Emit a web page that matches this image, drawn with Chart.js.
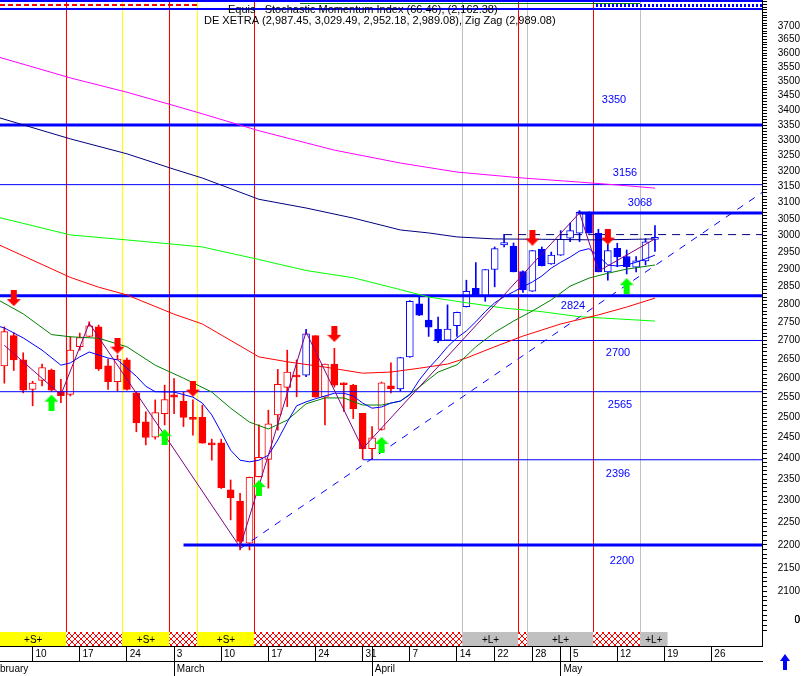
<!DOCTYPE html>
<html>
<head>
<meta charset="utf-8">
<script src="https://cdnjs.cloudflare.com/ajax/libs/Chart.js/4.4.1/chart.umd.min.js"></script>
<style>
  html, body { margin: 0; padding: 0; background: #fff; }
  canvas { display: block; }
</style>
</head>
<body>
<canvas id="chart" width="810" height="676"></canvas>
<script>
// DE XETRA daily candles, 5 Feb - 16 May 2003
// x = trading day index, 0 = Mon 10 Feb
const firstIdx = -3;
const opens = [2632,2713,2648,2571,2594,2621,2565,2558,2683,2711,
  2737,2632,2591,2648,2562,2489,2451,2509,2557,2541,
  2499,2500,2437,2437,2325,2299,2204,2356,2397,2506,
  2576,2606,2608,2713,2551,2637,2586,2582,2510,2423,
  2470,2580,2572,2656,2801,2756,2730,2701,2740,2793,
  2845,2822,2899,2971,2968,2893,2837,2959,2915,2941,
  2991,3006,3070,3006,2892,2961,2937,2906,2924,2987.45];
const highs = [2737,2721,2667,2592,2637,2624,2597,2710,2720,2751,
  2742,2650,2661,2653,2564,2514,2544,2582,2599,2564,
  2544,2531,2446,2446,2348,2317,2355,2481,2518,2623,
  2674,2648,2730,2713,2637,2679,2588,2584,2510,2477,
  2590,2640,2655,2810,2825,2818,2764,2798,2778,2868,
  2919,2899,2965,3003,2977,2895,2955,2965,2950,3014,
  3037,3075,3071,3018,2974,2976,2956,2937,2990,3029.49];
const lows = [2587,2620,2562,2529,2580,2567,2537,2554,2674,2711,
  2620,2571,2567,2569,2464,2432,2446,2481,2509,2477,
  2456,2436,2395,2328,2256,2189,2189,2355,2329,2468,
  2527,2552,2604,2551,2481,2577,2515,2497,2398,2398,
  2468,2562,2567,2655,2768,2711,2694,2700,2711,2792,
  2822,2808,2849,2965,2892,2833,2836,2909,2914,2940,
  2981,2981,3006,2892,2868,2907,2886,2892,2912,2952.18];
const closes = [2724,2648,2569,2587,2628,2569,2555,2674,2708,2740,
  2624,2591,2650,2571,2486,2450,2512,2545,2551,2500,
  2495,2436,2432,2330,2306,2208,2354,2402,2484,2584,
  2616,2603,2718,2551,2637,2582,2583,2522,2423,2449,
  2588,2572,2654,2808,2769,2736,2699,2731,2777,2836,
  2822,2899,2960,2978,2892,2840,2954,2910,2941,2988,
  3014,3070,3006,2892,2954,2936,2907,2924,2980,2989.08];
const blueBars = [29];   // single blue bar in the red phase
const blueFrom = 39;     // blue from 4 Apr on

// moving averages [index, value]
const maMagenta = [[-4,3590],[4,3512],[10,3462],[15,3416],[18,3388],[24,3331],[32,3267],[39,3225],[45,3196],[52,3177],[58,3164],[62,3155],[66,3145]];
const maNavy = [[-4,3379],[4,3304],[10,3255],[15,3205],[18,3177],[24,3110],[29,3083],[34,3052],[39,3016],[42,3007],[45,2995],[49,2989],[54,2988],[60,2986],[66,2989]];
const maLime = [[-4,3057],[4,3001],[10,2986],[15,2973],[18,2965],[24,2928],[29,2896],[34,2875],[39,2841],[42,2820],[46,2804],[50,2789],[54,2779],[58,2765],[62,2759],[66,2753]];
const maRed = [[-4,2977],[4,2876],[7,2848],[10,2826],[15,2772],[18,2745],[24,2656],[27,2643],[31,2629],[35,2613],[38,2616],[41,2626],[44,2637],[46,2653],[49,2683],[52,2712],[56,2745],[60,2770],[63,2792],[66,2817]];
const maGreen = [[-4,2817],[-1,2773],[2,2716],[4,2710],[7,2706],[10,2683],[13,2634],[16,2600],[19,2564],[21,2523],[23,2488],[25,2471],[27,2493],[29,2534],[31,2549],[33,2549],[35,2531],[37,2531],[39,2541],[41,2577],[43,2616],[45,2635],[47,2683],[49,2722],[51,2753],[53,2781],[55,2812],[57,2851],[59,2874],[61,2888],[63,2900],[66,2912]];
const maBlue = [[-4,2742],[-3,2734],[-1,2707],[1,2674],[3,2634],[4,2640],[5,2656],[6,2669],[8,2653],[9,2648],[11,2605],[12,2579],[13,2565],[15,2564],[17,2551],[18,2536],[19,2506],[20,2463],[21,2419],[22,2395],[23,2391],[24,2395],[25,2407],[26,2444],[27,2488],[28,2529],[29,2539],[30,2547],[31,2554],[32,2561],[33,2561],[34,2554],[35,2536],[36,2523],[37,2526],[38,2536],[39,2541],[40,2557],[41,2595],[42,2626],[43,2653],[44,2683],[45,2707],[46,2726],[47,2751],[48,2779],[49,2804],[50,2821],[51,2835],[52,2849],[53,2863],[54,2880],[55,2903],[56,2920],[57,2935],[58,2953],[59,2960],[60,2938],[61,2912],[62,2909],[63,2912],[64,2920],[65,2930],[66,2941]];
const zigZag = [[-3,2687],[3,2557],[6,2747],[22,2195],[29,2723],[35,2423],[58,3068],[60,2894],[66,2989.08]];
const trendLine = [[22,2192],[77.35,3131]];

// support / resistance levels
const levels = [3350, 3156, 3068, 2824, 2700, 2565, 2396, 2200];
const levelFrom = [null, null, 57.8, null, 42.5, null, 35, 16];
const thickLevels = [3350, 3068, 2824, 2200];
const lastHigh = 3002, lastHighFrom = 50;

// signal arrows
const downIdx = [-2, 9, 17, 32, 53, 61];
const downVal = [2817, 2686, 2573, 2718, 2993, 2996];
const upIdx = [2, 14, 24, 37, 63];
const upVal = [2537, 2451, 2329, 2432, 2851];

// vertical markers (signal changes)
const redLines = [3.592, 14.515, 23.53, 51.527, 59.481];
const yellowLines = [9.531, 17.485];
const greyLines = [45.588, 52.482, 64.465];

// signal strip
const stripStart = [-3.46, 3.592, 9.531, 14.515, 17.485, 23.53, 45.588, 51.527, 52.482, 59.481, 64.465];
const stripEnd   = [3.592, 9.531, 14.515, 17.485, 23.53, 45.588, 51.527, 52.482, 59.481, 64.465, 67.3];
const stripType  = ['S','X','S','X','S','X','L','X','L','X','L'];

// axis ticks
const weekTicks = [0,5,10,15,20,25,30,35,40,45,49,53,57,62,67,72];
const weekLabels = ['10','17','24','3','10','17','24','31','7','14','22','28','5','12','19','26'];
const monthTicks = [-5, 15, 36, 56];
const monthLabels = ['February','March','April','May'];
const yLabelValues = [3700,3650,3600,3550,3500,3450,3400,3350,3300,3250,3200,3150,3100,3050,3000,2950,2900,2850,2800,2750,2700,2650,2600,2550,2500,2450,2400,2350,2300,2250,2200,2150,2100];
const yZeroTick = 2040;

const X_MIN = -3.46, X_MAX = 77.35, Y_MIN = 2016.4, Y_MAX = 3797;
const RED = '#ff0000', BLUE = '#0000ff';
const FONT = '"Liberation Sans", Arial, sans-serif';
Chart.defaults.font.family = FONT;
Chart.defaults.font.size = 10;
Chart.defaults.color = '#000';

const idxs = opens.map((_, i) => firstIdx + i);
const barColor = idxs.map(i => (blueBars.includes(i) || i >= blueFrom) ? BLUE : RED);
const bodyFill = idxs.map((_, i) => closes[i] >= opens[i] ? '#ffffff' : barColor[i]);

const ctx = document.getElementById('chart').getContext('2d');

// red cross hatch for the neutral strip parts
const pc = document.createElement('canvas');
pc.width = 6; pc.height = 6;
const pg = pc.getContext('2d');
pg.fillStyle = '#fff'; pg.fillRect(0, 0, 6, 6);
pg.fillStyle = RED;
for (let i = 0; i < 6; i++) { pg.fillRect(i, i, 1, 1); pg.fillRect(5 - i, i, 1, 1); }
const hatch = ctx.createPattern(pc, 'repeat');

function arrow(color, down) {
  const c = document.createElement('canvas');
  c.width = 14; c.height = 16;
  const g = c.getContext('2d');
  g.fillStyle = color;
  if (down) { g.translate(0, 16); g.scale(1, -1); }
  g.beginPath();
  g.moveTo(7, 0); g.lineTo(14, 7); g.lineTo(10, 7); g.lineTo(10, 16);
  g.lineTo(4, 16); g.lineTo(4, 7); g.lineTo(0, 7); g.closePath();
  g.fill();
  return c;
}

const pts = arr => arr.map(([x, y]) => ({x, y}));
function vlines(list) {
  const d = [];
  list.forEach(v => d.push({x: v, y: Y_MAX}, {x: v, y: Y_MIN}, {x: v, y: null}));
  return d;
}
const lineDs = (data, color, extra) => Object.assign({
  type: 'line', data, borderColor: color, borderWidth: 1, pointRadius: 0,
  fill: false, order: 2
}, extra || {});

const datasets = [
  // arrows on top
  { type: 'scatter', data: downIdx.map((x, i) => ({x, y: downVal[i]})), pointStyle: arrow(RED, true), order: 0 },
  { type: 'scatter', data: upIdx.map((x, i) => ({x, y: upVal[i]})), pointStyle: arrow('#00ff00', false), order: 0 },
  lineDs(pts(zigZag), '#800080', {order: 1}),
  lineDs(pts(maBlue), BLUE, {order: 1}),
  lineDs(pts(maGreen), '#008000', {order: 1}),
  lineDs(pts(maRed), RED, {order: 1}),
  lineDs(pts(maLime), '#00ff00', {order: 1}),
  lineDs(pts(maNavy), '#000080', {order: 1}),
  lineDs(pts(maMagenta), '#ff00ff', {order: 1}),
  lineDs(pts(trendLine), BLUE, {borderDash: [7, 7], order: 1}),
  lineDs([{x: lastHighFrom, y: lastHigh}, {x: X_MAX, y: lastHigh}], '#000080', {borderDash: [8, 6]}),
];
levels.forEach((v, i) => {
  datasets.push(lineDs([{x: levelFrom[i] ?? X_MIN, y: v}, {x: X_MAX, y: v}], BLUE,
    {borderWidth: thickLevels.includes(v) ? 3 : 1}));
});
datasets.push(
  { type: 'bar', data: idxs.map((x, i) => ({x, y: [opens[i], closes[i]]})),
    backgroundColor: bodyFill, borderColor: barColor, borderWidth: 1, borderSkipped: false,
    barThickness: 7, minBarLength: 2, grouped: false, order: 3 },
  { type: 'bar', data: idxs.map((x, i) => ({x, y: [lows[i], highs[i]]})),
    backgroundColor: barColor, borderWidth: 0, barThickness: 1, grouped: false, order: 4 },
  lineDs(vlines(redLines), RED, {order: 5}),
  lineDs(vlines(yellowLines), '#ffff00', {order: 5}),
  lineDs(vlines(greyLines), '#c0c0c0', {order: 5}),
  { type: 'bar', indexAxis: 'y', xAxisID: 'x', yAxisID: 'ys',
    data: stripStart.map((a, i) => ({x: [a, stripEnd[i]], y: 's'})),
    backgroundColor: stripType.map(t => t === 'S' ? '#ffff00' : t === 'L' ? '#c0c0c0' : hatch),
    borderWidth: 0, barPercentage: 1, categoryPercentage: 1, grouped: false, order: 6 }
);
const stripDs = datasets.length - 1;

const noPad = s => { s.paddingTop = 0; s.paddingBottom = 0; s.paddingLeft = 0; s.paddingRight = 0; };
const yTicks = [];
for (let v = 2020; v <= 3790; v += 10) yTicks.push(v);

const fmt = v => v.toLocaleString('en-US', {minimumFractionDigits: 2, maximumFractionDigits: 2});

const decor = {
  id: 'decor',
  afterDatasetsDraw(chart) {
    const c = chart.ctx, y = chart.scales.y;
    c.save();
    c.font = '11px ' + FONT;
    c.fillStyle = BLUE;
    c.textAlign = 'center';
    c.textBaseline = 'middle';
    const pos = [[614,-25],[625,-12],[640,-10],[573,10],[618,12],[620,13],[618,14],[622,16]];
    levels.forEach((v, i) => c.fillText(String(v), pos[i][0], y.getPixelForValue(v) + pos[i][1]));
    // strip captions
    c.fillStyle = '#000';
    c.font = '10px ' + FONT;
    chart.getDatasetMeta(stripDs).data.forEach((el, i) => {
      if (stripType[i] === 'X') return;
      const p = el.getProps(['x', 'y', 'base'], true);
      c.fillText('+' + stripType[i] + '+', (p.x + p.base) / 2, p.y + 1);
    });
    c.restore();
  },
  afterDraw(chart) {
    const c = chart.ctx;
    const w = chart.chartArea.right;
    c.save();
    // indicator pane remnants at the top
    c.fillStyle = BLUE;
    c.fillRect(0, 0, w, 2);
    c.fillRect(0, 8, w, 2);
    c.fillStyle = RED;
    for (let x = 0; x < 195; x += 8) c.fillRect(x, 4, 5, 2);
    c.fillStyle = '#008000';
    c.fillRect(300, 3, 340, 1);
    c.fillStyle = BLUE;
    for (let x = 596; x < w; x += 4) c.fillRect(x, 4, 2, 3);
    c.fillStyle = '#000';
    c.fillRect(w, 0, 1, 10);
    c.font = '11px ' + FONT;
    c.textBaseline = 'middle';
    c.fillText('Equis   Stochastic Momentum Index (66.46), (2,162.38)', 228, 10);
    const n = opens.length - 1;
    c.fillText('DE XETRA (' + fmt(opens[n]) + ', ' + fmt(highs[n]) + ', ' + fmt(lows[n]) + ', ' +
      fmt(closes[n]) + '), Zig Zag (' + fmt(zigZag[zigZag.length - 1][1]) + ')', 204, 21);
    // blue scroll arrow in the corner
    c.fillStyle = BLUE;
    c.beginPath();
    c.moveTo(785, 654); c.lineTo(790, 661); c.lineTo(787, 661); c.lineTo(787, 670);
    c.lineTo(783, 670); c.lineTo(783, 661); c.lineTo(780, 661); c.closePath();
    c.fill();
    c.restore();
  }
};

new Chart(ctx, {
  type: 'line',
  data: { datasets },
  options: {
    responsive: false,
    animation: false,
    events: [],
    layout: { autoPadding: false, padding: { left: 0, top: 0, right: 10, bottom: 0 } },
    plugins: { legend: { display: false }, tooltip: { enabled: false } },
    scales: {
      x: {
        type: 'linear', position: 'bottom', min: X_MIN, max: X_MAX, offset: false,
        afterBuildTicks: s => { s.ticks = weekTicks.concat([36, 56]).map(v => ({value: v})); },
        ticks: { autoSkip: false, maxRotation: 0, align: 'start', padding: -13, color: '#000',
          callback: v => { const k = weekTicks.indexOf(v); return k < 0 ? '' : ' ' + weekLabels[k]; } },
        grid: { drawOnChartArea: false, drawTicks: true, tickLength: 15, color: '#000', offset: false },
        border: { display: true, color: '#000' },
        afterFit: s => { s.height = 15; noPad(s); }
      },
      x2: {
        type: 'linear', position: 'bottom', min: X_MIN, max: X_MAX, offset: false,
        afterBuildTicks: s => { s.ticks = monthTicks.map(v => ({value: v})); },
        ticks: { autoSkip: false, maxRotation: 0, align: 'start', padding: -13, color: '#000',
          callback: v => ' ' + monthLabels[monthTicks.indexOf(v)] },
        grid: { drawOnChartArea: false, drawTicks: true, tickLength: 15, color: '#000', offset: false },
        border: { display: true, color: '#000' },
        afterFit: s => { s.height = 15; noPad(s); }
      },
      y: {
        type: 'logarithmic', position: 'right', stack: 'price', stackWeight: 632,
        min: Y_MIN, max: Y_MAX, beginAtZero: false,
        afterBuildTicks: s => { s.ticks = yTicks.concat([yZeroTick]).map(v => ({value: v})); },
        ticks: { autoSkip: false, padding: 11, crossAlign: 'far', color: '#000',
          callback: v => yLabelValues.includes(v) ? String(v) : (v === yZeroTick ? '0' : '') },
        grid: { drawOnChartArea: false, drawTicks: true, tickLength: 5, color: '#000' },
        border: { display: true, color: '#000' },
        afterFit: s => { s.width = 38; noPad(s); }
      },
      ys: {
        type: 'category', labels: ['s'], position: 'right', stack: 'price', stackWeight: 14,
        offset: true,
        ticks: { display: false },
        grid: { display: false },
        border: { display: true, color: '#000' },
        afterFit: s => { s.width = 38; noPad(s); }
      }
    }
  },
  plugins: [decor]
});
</script>
</body>
</html>
